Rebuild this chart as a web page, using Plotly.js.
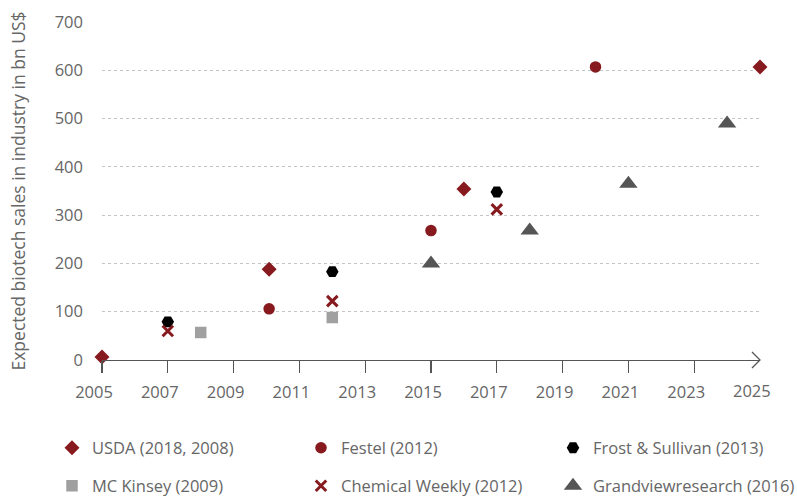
<!DOCTYPE html>
<html>
<head>
<meta charset="utf-8">
<script src="https://cdn.plot.ly/plotly-3.0.1.min.js"></script>
<style>html,body{margin:0;padding:0;background:#fff;}#chart{width:797px;height:496px;}</style>
</head>
<body>
<div id="chart"></div>
<script>
// Data
const usdaYears = [2005, 2010.08, 2016, 2025];
const usdaValues = [6, 188, 354, 607];
const festelYears = [2010.08, 2015, 2020];
const festelValues = [106, 268, 607];
const frostYears = [2007, 2012, 2017];
const frostValues = [79, 183, 348];
const mckinseyYears = [2008, 2012];
const mckinseyValues = [57, 88];
const chemYears = [2007, 2012, 2017];
const chemValues = [60, 122, 312];
const grandYears = [2015, 2018, 2021, 2024];
const grandValues = [200, 268, 365, 490];
const xTicks = [2005, 2007, 2009, 2011, 2013, 2015, 2017, 2019, 2021, 2023, 2025];
const yTicks = [0, 100, 200, 300, 400, 500, 600, 700];
const yTitle = 'Expected biotech sales in industry in bn US$';

const RED = '#861a1e';
const FONT = '"Open Sans", Roboto, sans-serif';
const TXT = '#666666';

function tr(name, xs, ys, symbol, color, size, legend, extra) {
  const m = {symbol: symbol, color: color, size: size, line: {width: 0}};
  Object.assign(m, extra || {});
  return {type: 'scatter', mode: 'markers', name: name, x: xs, y: ys,
    marker: m, cliponaxis: false, legend: legend, hoverinfo: 'x+y+name'};
}

const data = [
  tr('USDA (2018, 2008)', usdaYears, usdaValues, 'diamond', RED, 11.5, 'legend'),
  tr('Festel (2012)', festelYears, festelValues, 'circle', RED, 11.5, 'legend2'),
  tr('Frost &amp; Sullivan (2013)', frostYears, frostValues, 'hexagon2', '#000000', 12.5, 'legend3'),
  tr('MC Kinsey (2009)', mckinseyYears, mckinseyValues, 'square', '#a0a0a0', 11.5, 'legend4'),
  tr('Chemical Weekly (2012)', chemYears, chemValues, 'x-thin', RED, 10.5, 'legend5', {line: {width: 3, color: RED}}),
  tr('Grandviewresearch (2016)', grandYears, grandValues, 'triangle-up', '#555555', 16, 'legend6')
];

function leg(markerX, rowY) {
  return {
    orientation: 'h', xref: 'container', yref: 'container',
    xanchor: 'left', yanchor: 'middle',
    x: (markerX - 20) / 797, y: 1 - rowY / 496,
    font: {family: FONT, size: 16.5, color: TXT},
    bgcolor: 'rgba(0,0,0,0)', borderwidth: 0, itemclick: false
  };
}
const colX = [72, 321, 573];
const rowY = [448, 486];

const layout = {
  width: 797, height: 496,
  margin: {l: 102, r: 37, t: 22, b: 136},
  paper_bgcolor: '#ffffff', plot_bgcolor: '#ffffff',
  font: {family: FONT, size: 16.5, color: TXT},
  showlegend: true,
  legend: leg(colX[0], rowY[0]),
  legend2: leg(colX[1], rowY[0]),
  legend3: leg(colX[2], rowY[0]),
  legend4: leg(colX[0], rowY[1]),
  legend5: leg(colX[1], rowY[1]),
  legend6: leg(colX[2], rowY[1]),
  xaxis: {
    range: [2005, 2025],
    tickvals: xTicks.slice(0, -1), ticktext: xTicks.slice(0, -1).map(String),
    showgrid: false, zeroline: false,
    showline: true, linecolor: '#555555', linewidth: 1.3,
    ticks: 'outside', ticklen: 12, tickcolor: '#555555', tickwidth: 1.3,
    ticklabelshift: -8, ticklabelstandoff: 5,
    tickfont: {family: FONT, size: 16.5, color: TXT}
  },
  yaxis: {
    range: [0, 700], tickvals: yTicks, ticktext: yTicks.map(String),
    showgrid: true, gridcolor: '#c4c4c4', griddash: 'dot', gridwidth: 1,
    zeroline: false, showline: false, ticks: '',
    ticklabelstandoff: 18,
    tickfont: {family: FONT, size: 16.5, color: TXT},
    title: {text: yTitle, standoff: 24, font: {family: FONT, size: 17.5, color: TXT}}
  },
  annotations: [{
    xref: 'x', yref: 'paper', x: xTicks[xTicks.length - 1], y: 0,
    text: String(xTicks[xTicks.length - 1]), showarrow: false,
    xanchor: 'center', yanchor: 'top', xshift: -8, yshift: -17,
    font: {family: FONT, size: 16.5, color: TXT}
  }],
  shapes: [{
    type: 'path', xref: 'paper', yref: 'paper', xsizemode: 'pixel', ysizemode: 'pixel',
    xanchor: 1, yanchor: 0,
    path: 'M-8,8 L0,0 L-8,-8',
    line: {color: '#555555', width: 1.3}
  }]
};

Plotly.newPlot('chart', data, layout, {displayModeBar: false, staticPlot: true});
</script>
</body>
</html>
